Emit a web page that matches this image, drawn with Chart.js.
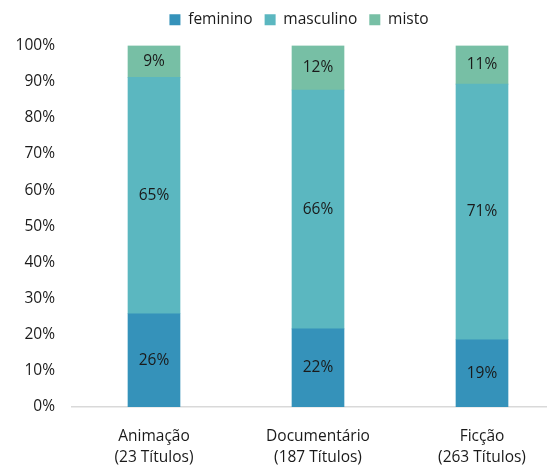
<!DOCTYPE html>
<html>
<head>
<meta charset="utf-8">
<script src="https://cdn.jsdelivr.net/npm/chart.js@4"></script>
<style>
  html, body { margin: 0; padding: 0; background: #fff; overflow: hidden; }
  #wrap { width: 564px; height: 467px; }
</style>
</head>
<body>
<div id="wrap"><canvas id="chart" width="564" height="467"></canvas></div>
<script>
'use strict'

var categories = [['Animação', '(23 Títulos)'], ['Documentário', '(187 Títulos)'], ['Ficção', '(263 Títulos)']];
var feminino = [25.8, 21.6, 18.6];
var masculino = [65.4, 66.1, 70.7];
var misto = [8.8, 12.3, 10.7];
var yTicks = [0, 10, 20, 30, 40, 50, 60, 70, 80, 90, 100];

var fontFamily = "'Open Sans', 'Noto Sans', sans-serif";
var fontSize = 15.5;

// draws the rounded percentage in the middle of each segment
var barLabels = {
    id: 'barLabels',
    afterDatasetsDraw: function (chart) {
        var ctx = chart.ctx;
        ctx.save();
        ctx.font = fontSize + 'px ' + fontFamily;
        ctx.fillStyle = '#1a1a1a';
        ctx.textAlign = 'center';
        ctx.textBaseline = 'middle';
        chart.data.datasets.forEach(function (ds, di) {
            chart.getDatasetMeta(di).data.forEach(function (bar, i) {
                var mid = (bar.y + bar.base) / 2;
                ctx.fillText(Math.round(ds.data[i]) + '%', bar.x, mid);
            });
        });
        ctx.restore();
    }
};

// more room under the legend, and nudge it to the right like the original
var legendGap = {
    id: 'legendGap',
    beforeInit: function (chart) {
        var origFit = chart.legend.fit;
        chart.legend.fit = function () {
            origFit.bind(chart.legend)();
            this.height += 8;
        };
    },
    afterLayout: function (chart) {
        chart.legend.left += 17;
        chart.legend.right += 17;
    }
};

var chartConfig = {
    type: 'bar',
    data: {
        labels: categories,
        datasets: [{
            label: 'feminino',
            data: feminino,
            backgroundColor: '#3592ba',
            barThickness: 52,
        }, {
            label: 'masculino',
            data: masculino,
            backgroundColor: '#5bb7c0',
            barThickness: 52,
        }, {
            label: 'misto',
            data: misto,
            backgroundColor: '#77bfa5',
            barThickness: 52,
        }]
    },
    options: {
        responsive: false,
        animation: false,
        plugins: {
            legend: {
                position: 'top',
                labels: {
                    font: { family: fontFamily, size: fontSize },
                    color: '#1a1a1a',
                    boxWidth: 11,
                    boxHeight: 11,
                    padding: 12,
                }
            },
            tooltip: { enabled: false }
        },
        scales: {
            x: {
                stacked: true,
                grid: { display: false, drawTicks: false },
                border: { color: '#d9d9d9', width: 1.5 },
                ticks: {
                    font: { family: fontFamily, size: fontSize, lineHeight: 1.35 },
                    color: '#1a1a1a',
                    padding: 19,
                    maxRotation: 0,
                },
                afterFit: function (scale) { scale.height = 60; }
            },
            y: {
                stacked: true,
                min: 0,
                max: 100,
                afterBuildTicks: function (scale) {
                    scale.ticks = yTicks.map(function (v) { return { value: v }; });
                },
                grid: { display: false, drawTicks: false },
                border: { display: false },
                ticks: {
                    font: { family: fontFamily, size: fontSize },
                    color: '#1a1a1a',
                    padding: 17,
                    callback: function (v) { return v + '%'; }
                },
                afterFit: function (scale) { scale.width = 72; }
            }
        }
    },
    plugins: [barLabels, legendGap]
};

var chartObj = new Chart(document.getElementById('chart'), chartConfig);
</script>
</body>
</html>
